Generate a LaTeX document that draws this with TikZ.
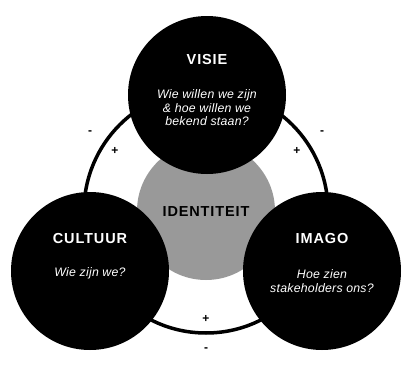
\documentclass[tikz,border=0pt]{standalone}
\usepackage{fontspec}
\setmainfont{Liberation Sans}
\newfontfamily\headfont[LetterSpace=6]{Liberation Sans}
\newfontfamily\askfont[LetterSpace=2]{Liberation Sans}
\usetikzlibrary{positioning}

\begin{document}
\begin{tikzpicture}[
    x=1pt, y=-1pt,
    pillar/.style={circle, fill=black, minimum size=158pt, inner sep=0pt},
    core/.style={circle, fill=black!40, minimum size=138pt, inner sep=0pt},
    ring/.style={circle, draw=black, line width=3.5pt, minimum size=244pt, inner sep=0pt},
    title/.style={font=\headfont\fontsize{14.5}{16}\selectfont\bfseries, text=white},
    question/.style={font=\askfont\fontsize{12.3}{13.5}\selectfont\itshape, text=white, align=center},
    sign/.style={font=\fontsize{12}{12}\selectfont\bfseries}
  ]
  \useasboundingbox (0,0) rectangle (408,386);

  \node[ring] (loop) at (206,211) {};
  \node[core] (ident) at (206,211) {};
  \node[pillar] (visie) at (207,95) {};
  \node[pillar] (cultuur) at (90,271) {};
  \node[pillar] (imago) at (322,271) {};

  \node[title] (tvisie) at (207,60) {VISIE};
  \node[question] (qvisie) at (207,108) {Wie willen we zijn\\\& hoe willen we\\bekend staan?};
  \node[title, text=black] (tident) at (206,212) {IDENTITEIT};
  \node[title] (tcultuur) at (90,239) {CULTUUR};
  \node[question] (qcultuur) at (90,273) {Wie zijn we?};
  \node[title] (timago) at (322,239) {IMAGO};
  \node[question] (qimago) at (322,281) {Hoe zien\\stakeholders ons?};

  % plus and minus marks along the ring
  \node[sign] (lmin) at (90,133) {-};
  \node[sign] (lplus) at (115,151) {+};
  \node[sign] (rmin) at (322,133) {-};
  \node[sign] (rplus) at (297,151) {+};
  \node[sign] (bplus) at (206,319) {+};
  \node[sign] (bmin) at (206,350) {-};
\end{tikzpicture}
\end{document}
